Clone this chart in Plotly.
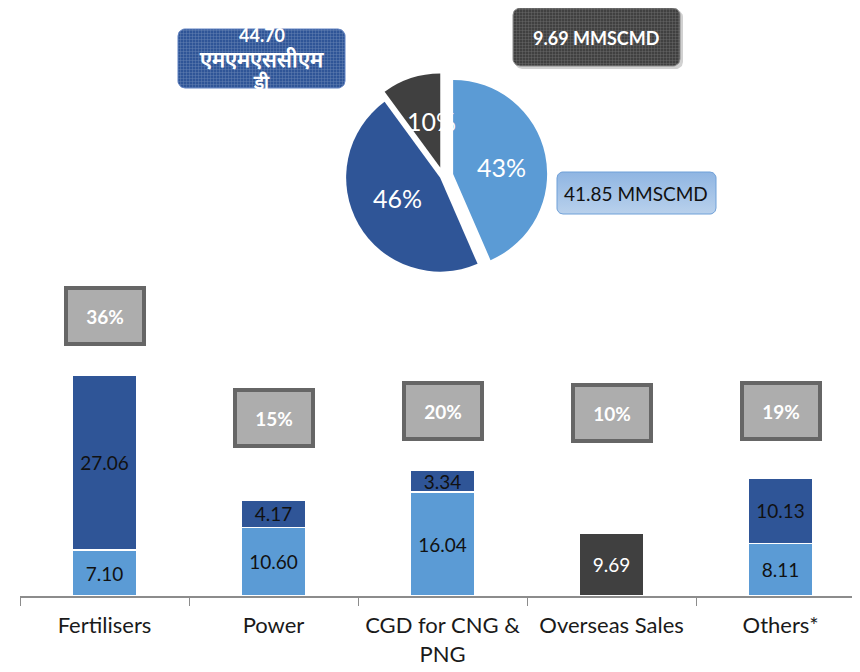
import numpy as np
import plotly.graph_objects as go

# ---------------- data ----------------
categories = ["Fertilisers", "Power", "CGD for CNG &<br>PNG", "Overseas Sales", "Others*"]
lng_values = [7.10, 10.60, 16.04, None, 8.11]          # light blue
gas_values = [27.06, 4.17, 3.34, None, 10.13]          # dark blue
overseas_values = [None, None, None, 9.69, None]       # dark grey
share_labels = ["36%", "15%", "20%", "10%", "19%"]
unit = "MMSCMD"
unit_hindi_lines = ["एमएमएससीएम", "डी"]

# ---------------- styles ----------------
OFF = 8                      # page body margin
W, H = 860 - OFF, 672 - OFF  # figure size so that it ends at the window edge
C_LIGHT = "#5B9BD5"
C_DARK = "#2F5597"
C_GREY = "#404040"
FONT = "Lato, 'Open Sans', sans-serif"


def fx(x):
    return (x - OFF) / W


def fy(y):
    return 1 - (y - OFF) / H


def tot(v):
    return round(sum(a for a in v if a is not None), 2)


pie_values = [tot(lng_values), tot(gas_values), tot(overseas_values)]
pie_total = sum(pie_values)

fig = go.Figure()

# ---- stacked bars ----
bar_common = dict(textposition="inside", insidetextanchor="middle",
                  texttemplate="%{y:.2f}", showlegend=False, hoverinfo="skip",
                  marker_line=dict(color="white", width=1.5), constraintext="none")
fig.add_trace(go.Bar(x=categories, y=lng_values, marker_color=C_LIGHT,
                     textfont=dict(family=FONT, size=19, color="#111111"), **bar_common))
fig.add_trace(go.Bar(x=categories, y=gas_values, marker_color=C_DARK,
                     textfont=dict(family=FONT, size=19, color="#111111"), **bar_common))
fig.add_trace(go.Bar(x=categories, y=overseas_values, marker_color=C_GREY,
                     textfont=dict(family=FONT, size=19, color="white"), **bar_common))

# ---- pie ----
r_pie = 94
pulls = [0.11, 0.035, 0.095]
cx, cy = 443, 176
half = r_pie * (1 + max(pulls))
fig.add_trace(go.Pie(values=pie_values, sort=False, direction="clockwise", rotation=0,
                     marker=dict(colors=[C_LIGHT, C_DARK, C_GREY], line=dict(width=0)),
                     pull=pulls, textinfo="none", hoverinfo="skip", showlegend=False,
                     domain=dict(x=[fx(cx - half), fx(cx + half)],
                                 y=[fy(cy + half), fy(cy - half)])))


# ---- callout boxes (overlay pixel axes) ----
def rrect(x0, y0, x1, y1, r, n=10):
    xs, ys = [], []
    for ccx, ccy, a0, a1 in [(x1 - r, y0 + r, -90, 0), (x1 - r, y1 - r, 0, 90),
                             (x0 + r, y1 - r, 90, 180), (x0 + r, y0 + r, 180, 270)]:
        for a in np.linspace(a0, a1, n):
            t = np.radians(a)
            xs.append(ccx + r * np.cos(t))
            ys.append(ccy + r * np.sin(t))
    xs.append(xs[0])
    ys.append(ys[0])
    return xs, ys


def box(x0, y0, x1, y1, r, fill, line, pattern=None, gradient=None, lw=1):
    xs, ys = rrect(x0, y0, x1, y1, r)
    kw = dict(x=xs, y=ys, mode="lines", fill="toself", fillcolor=fill,
              line=dict(color=line, width=lw), xaxis="x2", yaxis="y2",
              showlegend=False, hoverinfo="skip")
    if pattern:
        kw["fillpattern"] = pattern
    if gradient:
        kw["fillgradient"] = gradient
    fig.add_trace(go.Scatter(**kw))


# shadow of grey box
box(515, 10, 683, 69, 7, "rgba(0,0,0,0.18)", "rgba(0,0,0,0)", lw=0)
box(513, 8, 680, 66, 7, C_GREY, "#8a8a8a",
    pattern=dict(shape="+", fgcolor="rgba(255,255,255,0.5)", bgcolor=C_GREY,
                 size=3, solidity=0.25))
box(178, 29, 345, 88, 7, C_DARK, "#5f80c0",
    pattern=dict(shape="+", fgcolor="rgba(255,255,255,0.6)", bgcolor=C_DARK,
                 size=3, solidity=0.25))
box(557, 172, 716, 214, 6, "#a3c2e8", "#6fa0d8",
    gradient=dict(type="vertical", colorscale=[[0, "#b9d1ec"], [1, "#8fb5e2"]]))

annotations = []
# callout texts (blue box lines placed individually)
blue_lines = [f"{pie_values[1]:.2f}"] + unit_hindi_lines
blue_line_y = [35, 59, 81]
blue_line_size = [18, 22, 19]
for t, py, s in zip(blue_lines, blue_line_y, blue_line_size):
    annotations.append(dict(x=fx(262), y=fy(py), xref="paper", yref="paper",
                            text=f"<b>{t}</b>", showarrow=False,
                            font=dict(family=FONT, size=s, color="white"),
                            xanchor="center", yanchor="middle"))
annotations.append(dict(x=fx(596), y=fy(38), xref="paper", yref="paper",
                        text=f"<b>{pie_values[2]:.2f} {unit}</b>", showarrow=False,
                        font=dict(family=FONT, size=18, color="white"),
                        xanchor="center", yanchor="middle"))
annotations.append(dict(x=fx(636), y=fy(193), xref="paper", yref="paper",
                        text=f"{pie_values[0]:.2f} {unit}", showarrow=False,
                        font=dict(family=FONT, size=19, color="#111111"),
                        xanchor="center", yanchor="middle"))

# pie percentage labels
pie_label_pos = [(501, 167), (397, 198), (431, 121)]
for v, (px, py) in zip(pie_values, pie_label_pos):
    annotations.append(dict(x=fx(px), y=fy(py), xref="paper", yref="paper",
                            text=f"{round(v / pie_total * 100)}%", showarrow=False,
                            font=dict(family=FONT, size=25, color="white"),
                            xanchor="center", yanchor="middle"))

# share boxes above bars
share_y = [316, 418, 411, 413, 411]
for cat, lab, py in zip(categories, share_labels, share_y):
    annotations.append(dict(x=cat, y=fy(py), xref="x", yref="paper", text=f"<b>{lab}</b>",
                            showarrow=False, font=dict(family=FONT, size=19, color="white"),
                            bgcolor="#adadad", bordercolor="#666666", borderwidth=4,
                            borderpad=0, width=74, height=52,
                            xanchor="center", yanchor="middle"))

fig.update_layout(
    width=W, height=H, margin=dict(l=0, r=0, t=0, b=0),
    paper_bgcolor="white", plot_bgcolor="rgba(0,0,0,0)",
    barmode="stack", bargap=0.615,
    uniformtext=dict(minsize=17, mode="show"),
    xaxis=dict(domain=[fx(20), 1], range=[-0.5, 4.47], showline=True, linecolor="#8c8c8c",
               linewidth=2, ticks="outside", tickson="boundaries", ticklen=8,
               tickcolor="#8c8c8c", tickwidth=1, ticklabelstandoff=9,
               tickfont=dict(family=FONT, size=22, color="#1a1a1a"), showgrid=False,
               zeroline=False, fixedrange=True),
    yaxis=dict(domain=[fy(596), fy(280)], range=[0, 316 / 6.47], visible=False,
               fixedrange=True),
    xaxis2=dict(domain=[0, 1], range=[OFF, OFF + W], visible=False, anchor="y2",
                fixedrange=True),
    yaxis2=dict(domain=[0, 1], range=[OFF + H, OFF], visible=False, anchor="x2",
                fixedrange=True),
    annotations=annotations,
)

fig.write_html("out.html")
